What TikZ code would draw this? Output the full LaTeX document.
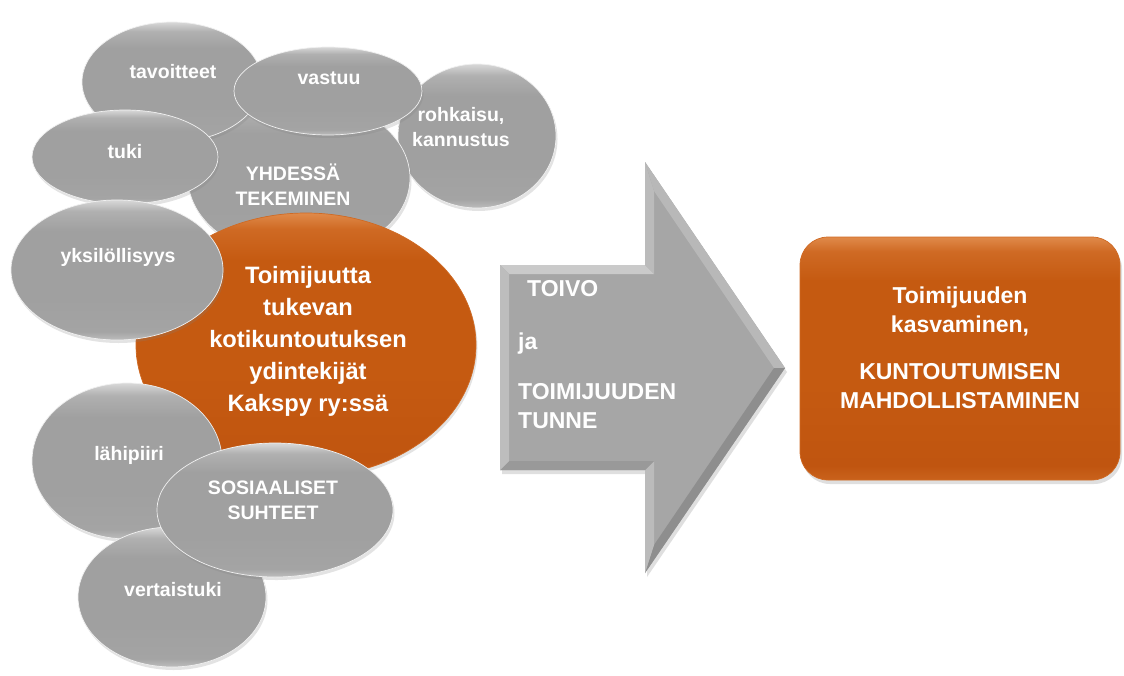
\documentclass[tikz,border=0pt]{standalone}
\usepackage{fontspec}
\setmainfont{Liberation Sans}
\usetikzlibrary{shapes.geometric,shadows}
\definecolor{gA}{HTML}{BDBDBD}
\definecolor{gB}{HTML}{A4A4A4}
\definecolor{gC}{HTML}{A0A0A0}
\definecolor{gD}{HTML}{B0B0B0}
\definecolor{gE}{HTML}{D8D8D8}
\definecolor{oA}{HTML}{C9621C}
\definecolor{oB}{HTML}{C05510}
\definecolor{oC}{HTML}{C55A11}
\definecolor{oD}{HTML}{CF6A24}
\definecolor{oE}{HTML}{E08A4A}
\definecolor{arrowface}{HTML}{A6A6A6}
\definecolor{bvTop}{HTML}{CACACA}
\definecolor{bvLeft}{HTML}{BDBDBD}
\definecolor{bvNotch}{HTML}{BBBBBB}
\definecolor{bvHeadUp}{HTML}{B8B8B8}
\definecolor{bvHeadDn}{HTML}{8E8E8E}
\definecolor{bvBot}{HTML}{999999}
\pgfdeclareverticalshading{glossgray}{100bp}{color(0bp)=(gA); color(25bp)=(gA); color(28bp)=(gB); color(40bp)=(gC); color(64bp)=(gC); color(71bp)=(gD); color(75bp)=(gE); color(100bp)=(gE)}
\pgfdeclareverticalshading{glossorange}{100bp}{color(0bp)=(oA); color(25bp)=(oA); color(28bp)=(oB); color(45bp)=(oC); color(66bp)=(oC); color(72bp)=(oD); color(75bp)=(oE); color(100bp)=(oE)}
\tikzset{
  gball/.style={ellipse, draw=white!88!gray, line width=0.7pt, shading=glossgray, inner sep=0pt,
    drop shadow={opacity=0.22, shadow xshift=1.5pt, shadow yshift=-3pt}},
  oball/.style={ellipse, draw=oD, line width=0.7pt, shading=glossorange, inner sep=0pt,
    drop shadow={opacity=0.22, shadow xshift=1.5pt, shadow yshift=-3pt}},
  obox/.style={rectangle, rounded corners=28pt, draw=oD, line width=0.7pt, shading=glossorange, inner sep=0pt,
    drop shadow={opacity=0.25, shadow xshift=2pt, shadow yshift=-4pt}},
  lbl/.style={text=white, font=\bfseries\fontsize{19.5}{25}\selectfont, align=center, inner sep=0pt},
  big/.style={text=white, font=\bfseries\fontsize{23.7}{32}\selectfont, align=center, inner sep=0pt},
  boxtxt/.style={text=white, font=\bfseries\fontsize{23}{29}\selectfont, align=center, inner sep=0pt},
  arrtxt/.style={text=white, font=\bfseries\fontsize{23}{29}\selectfont, anchor=base west, inner sep=0pt},
}
\begin{document}
\begin{tikzpicture}[x=1pt,y=-1pt]
\useasboundingbox (0,0) rectangle (1124,675);
\fill[white] (0,0) rectangle (1124,675);

% left cluster (back to front)
\node[gball, minimum width=158pt, minimum height=144pt] (rohk) at (477,136) {};
\node[lbl] (rohkT) at (461,127.5) {rohkaisu,\\kannustus};
\node[gball, minimum width=222pt, minimum height=160pt] (yhd) at (299,178) {};
\node[lbl] (yhdT) at (293,184.5) {YHDESSÄ\\TEKEMINEN};
\node[gball, minimum width=180pt, minimum height=120pt] (tav) at (172,82) {};
\node[lbl] (tavT) at (173,72) {tavoitteet};
\node[gball, minimum width=188pt, minimum height=88pt] (vas) at (328,91) {};
\node[lbl] (vasT) at (329,78) {vastuu};
\node[gball, minimum width=186pt, minimum height=94pt] (tuki) at (125,157) {};
\node[lbl] (tukiT) at (125,152) {tuki};
\node[oball, minimum width=340pt, minimum height=264pt] (core) at (306,345) {};
\node[big] (coreT) at (308,341) {Toimijuutta\\tukevan\\kotikuntoutuksen\\ydintekijät\\Kakspy ry:ssä};
\node[gball, minimum width=212pt, minimum height=140pt] (yks) at (117,270) {};
\node[lbl] (yksT) at (118,257) {yksilöllisyys};
\node[gball, minimum width=190pt, minimum height=156pt] (lah) at (127,461) {};
\node[lbl] (lahT) at (129,455) {lähipiiri};
\node[gball, minimum width=188pt, minimum height=140pt] (ver) at (172,597) {};
\node[lbl] (verT) at (173,590) {vertaistuki};
\node[gball, minimum width=236pt, minimum height=134pt] (sos) at (275,510) {};
\node[lbl] (sosT) at (273,500) {SOSIAALISET\\SUHTEET};

% arrow
\coordinate (A) at (500,265); \coordinate (B) at (645,265); \coordinate (C) at (645,162);
\coordinate (D) at (785,368); \coordinate (E) at (645,573); \coordinate (F) at (645,470);
\coordinate (G) at (500,470);
\coordinate (Ai) at (509,274); \coordinate (Bi) at (654,274); \coordinate (Ci) at (654,191);
\coordinate (Di) at (774,368); \coordinate (Ei) at (654,545); \coordinate (Fi) at (654,461);
\coordinate (Gi) at (509,461);
\fill[arrowface, drop shadow={opacity=0.25, shadow xshift=2pt, shadow yshift=-4pt}]
  (A) -- (B) -- (C) -- (D) -- (E) -- (F) -- (G) -- cycle;
\fill[bvTop] (A) -- (B) -- (Bi) -- (Ai) -- cycle;
\fill[bvNotch] (B) -- (C) -- (Ci) -- (Bi) -- cycle;
\fill[bvHeadUp] (C) -- (D) -- (Di) -- (Ci) -- cycle;
\fill[bvHeadDn] (D) -- (E) -- (Ei) -- (Di) -- cycle;
\fill[bvNotch] (E) -- (F) -- (Fi) -- (Ei) -- cycle;
\fill[bvBot] (F) -- (G) -- (Gi) -- (Fi) -- cycle;
\fill[bvLeft] (G) -- (A) -- (Ai) -- (Gi) -- cycle;
\node[arrtxt] (toivo) at (527,296) {TOIVO};
\node[arrtxt] (ja) at (518,349) {ja};
\node[arrtxt] (toim) at (518,399) {TOIMIJUUDEN};
\node[arrtxt] (tunne) at (518,428) {TUNNE};

% result box
\node[obox, minimum width=320pt, minimum height=243pt] (res) at (960,358.5) {};
\node[boxtxt] (resT) at (960,347.5) {Toimijuuden\\kasvaminen,\\[18pt]KUNTOUTUMISEN\\MAHDOLLISTAMINEN};
\end{tikzpicture}
\end{document}
